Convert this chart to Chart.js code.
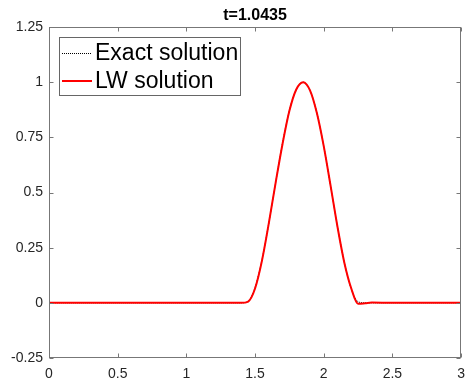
<!DOCTYPE html>
<html>
<head>
<meta charset="utf-8">
<script src="https://cdn.jsdelivr.net/npm/chart.js@4.4.1/dist/chart.umd.min.js"></script>
<style>
  html, body { margin: 0; padding: 0; background: #fff; }
  canvas { display: block; }
</style>
</head>
<body>
<canvas id="waveChart" width="473" height="382"></canvas>
<script>
// values
const xs = [0, 0.5, 1, 1.4, 1.45, 1.5, 1.55, 1.6, 1.65, 1.7, 1.75, 1.8, 1.85, 1.9, 1.95, 2, 2.05, 2.1, 2.15, 2.2, 2.25, 2.3, 2.35, 2.5, 3];
const exactVals = [0, 0, 0, 0, 0.007, 0.07, 0.194, 0.36, 0.545, 0.724, 0.872, 0.968, 1.0, 0.963, 0.861, 0.71, 0.53, 0.345, 0.183, 0.064, 0.005, 0, 0, 0, 0];
const lwVals = [0, 0, 0, 0, 0.006, 0.065, 0.19, 0.36, 0.545, 0.72, 0.87, 0.967, 1.0, 0.963, 0.86, 0.71, 0.53, 0.345, 0.182, 0.066, -0.004, -0.002, 0.001, 0, 0];
const xTicks = [0, 0.5, 1, 1.5, 2, 2.5, 3];
const yTicks = [-0.25, 0, 0.25, 0.5, 0.75, 1, 1.25];
const yTickLabels = ['-0.25', '0', '0.25', '0.5', '0.75', '1', '1.25'];
const titleText = 't=1.0435';
const legendLabels = ['Exact solution', 'LW solution'];

const toPoints = vals => xs.map((x, i) => ({ x: x, y: vals[i] }));

// box around the axes with ticks pointing inwards, like matlab
const framePlugin = {
  id: 'frame',
  afterDraw(chart) {
    const { ctx, chartArea: a, scales } = chart;
    const L = Math.round(a.left) + 0.5, R = Math.round(a.right) - 0.5;
    const T = Math.round(a.top) + 0.5, B = Math.round(a.bottom) - 0.5;
    ctx.save();
    ctx.strokeStyle = '#777';
    ctx.lineWidth = 1;
    ctx.strokeRect(L, T, R - L, B - T);
    ctx.beginPath();
    xTicks.forEach(v => {
      const px = Math.round(scales.x.getPixelForValue(v)) + 0.5;
      ctx.moveTo(px, B); ctx.lineTo(px, B - 4);
      ctx.moveTo(px, T); ctx.lineTo(px, T + 4);
    });
    yTicks.forEach(v => {
      const py = Math.round(scales.y.getPixelForValue(v)) + 0.5;
      ctx.moveTo(L, py); ctx.lineTo(L + 4, py);
      ctx.moveTo(R, py); ctx.lineTo(R - 4, py);
    });
    ctx.stroke();

    // title
    ctx.fillStyle = '#000';
    ctx.font = 'bold 16px "Liberation Sans", Arial, sans-serif';
    ctx.textAlign = 'center';
    ctx.textBaseline = 'alphabetic';
    ctx.fillText(titleText, (a.left + a.right) / 2, 19.5);

    // legend box
    const bx = 59.5, by = 37.5, bw = 181, bh = 58;
    ctx.fillStyle = '#fff';
    ctx.fillRect(bx, by, bw, bh);
    ctx.strokeStyle = '#666';
    ctx.strokeRect(bx, by, bw, bh);
    const rows = [53, 81];
    ctx.font = '23px "Liberation Sans", Arial, sans-serif';
    ctx.textAlign = 'left';
    ctx.textBaseline = 'middle';
    chart.data.datasets.slice().reverse().forEach((ds, i) => {
      ctx.beginPath();
      ctx.strokeStyle = ds.borderColor;
      ctx.lineWidth = ds.borderWidth;
      ctx.setLineDash(ds.borderDash || []);
      const ly = ds.borderWidth % 2 ? rows[i] + 0.5 : rows[i];
      ctx.moveTo(62, ly); ctx.lineTo(92, ly);
      ctx.stroke();
      ctx.setLineDash([]);
      ctx.fillStyle = '#000';
      ctx.fillText(legendLabels[i], 95, rows[i] + 1);
    });
    ctx.restore();
  }
};

const ctx = document.getElementById('waveChart').getContext('2d');
new Chart(ctx, {
  type: 'line',
  data: {
    datasets: [
      {
        label: legendLabels[1],
        data: toPoints(lwVals),
        borderColor: '#ff0000',
        borderWidth: 2,
        pointRadius: 0,
        cubicInterpolationMode: 'monotone',
        fill: false
      },
      {
        label: legendLabels[0],
        data: toPoints(exactVals),
        borderColor: '#000000',
        borderWidth: 1,
        borderDash: [1, 1],
        pointRadius: 0,
        cubicInterpolationMode: 'monotone',
        fill: false
      }
    ]
  },
  options: {
    responsive: false,
    animation: false,
    layout: { padding: { top: 27, right: 5, left: 0, bottom: 0 } },
    plugins: {
      legend: { display: false },
      tooltip: { enabled: false },
      title: { display: false }
    },
    scales: {
      x: {
        type: 'linear',
        min: 0,
        max: 3,
        grid: { display: false, drawTicks: false },
        border: { display: false },
        afterBuildTicks: scale => { scale.ticks = xTicks.map(v => ({ value: v })); },
        afterFit: scale => { scale.height = 24; },
        ticks: {
          padding: 8,
          color: '#262626',
          font: { family: '"Liberation Sans", Arial, sans-serif', size: 14 },
          maxRotation: 0,
          callback: v => String(v)
        }
      },
      y: {
        type: 'linear',
        min: -0.25,
        max: 1.25,
        grid: { display: false, drawTicks: false },
        border: { display: false },
        afterBuildTicks: scale => { scale.ticks = yTicks.map(v => ({ value: v })); },
        afterFit: scale => { scale.width = 49; },
        ticks: {
          padding: 6,
          color: '#262626',
          font: { family: '"Liberation Sans", Arial, sans-serif', size: 14 },
          callback: v => yTickLabels[yTicks.indexOf(v)]
        }
      }
    }
  },
  plugins: [framePlugin]
});
</script>
</body>
</html>
